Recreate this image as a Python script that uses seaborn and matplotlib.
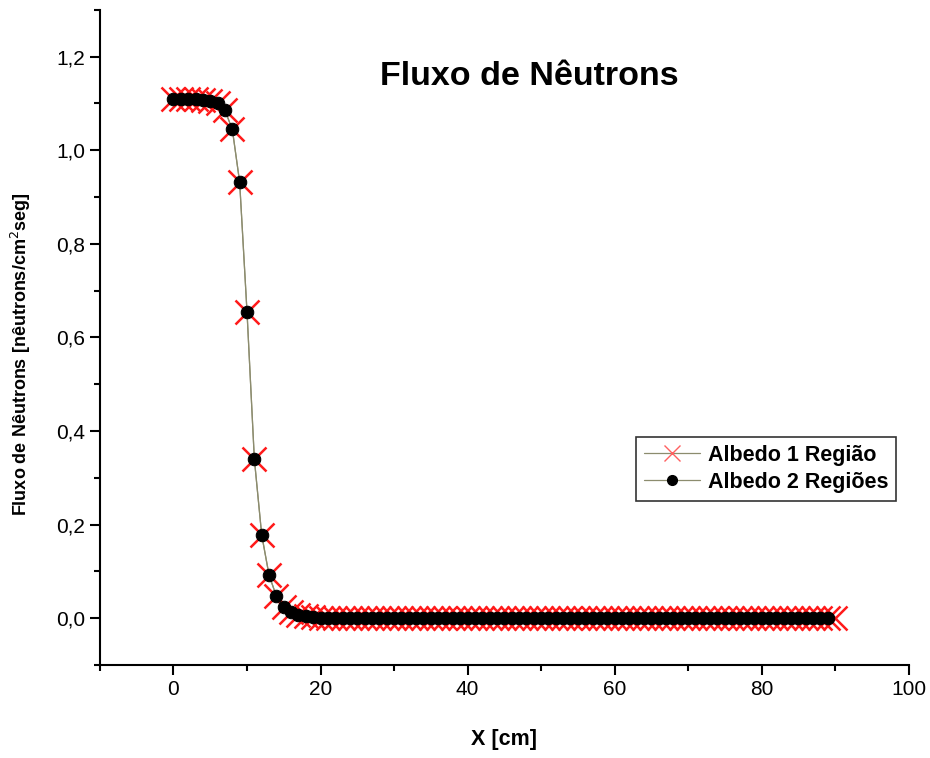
import matplotlib
matplotlib.use('Agg')
import matplotlib.pyplot as plt
import numpy as np
import pandas as pd
import seaborn as sns
from matplotlib.ticker import MultipleLocator
from matplotlib.lines import Line2D

# Posição (cm)
x_1reg = list(range(0, 91))
x_2reg = list(range(0, 90))

# Fluxo de nêutrons
flux_head = [1.110, 1.110, 1.110, 1.110, 1.108, 1.105, 1.100, 1.085, 1.045, 0.932,
             0.655, 0.340, 0.178, 0.092, 0.047, 0.024, 0.013, 0.007, 0.004, 0.002,
             0.001]
flux_1reg = flux_head + [0.0] * 70
flux_2reg = flux_head + [0.0] * 69

df1 = pd.DataFrame({'x': x_1reg, 'flux': flux_1reg})
df2 = pd.DataFrame({'x': x_2reg, 'flux': flux_2reg})

sns.set_style('ticks')
plt.rcParams['font.family'] = ['Liberation Sans', 'DejaVu Sans']
plt.rcParams['text.color'] = 'black'
plt.rcParams['axes.labelcolor'] = 'black'
plt.rcParams['xtick.color'] = 'black'
plt.rcParams['ytick.color'] = 'black'

fig = plt.figure(figsize=(9.3, 7.58), dpi=100)
ax = fig.add_axes([0.1075, 0.1227, 0.8695, 0.8643])

line_col = '#8c8c6e'
sns.lineplot(ax=ax, data=df1, x='x', y='flux', color=line_col, lw=0.9,
             marker='x', markersize=17, markeredgewidth=1.8,
             markeredgecolor='#ff1a1a', legend=False, zorder=2)
sns.lineplot(ax=ax, data=df2, x='x', y='flux', color=line_col, lw=0.9,
             marker='o', markersize=9, markerfacecolor='black',
             markeredgecolor='black', legend=False, zorder=3)

ax.set_xlim(-10, 100)
ax.set_ylim(-0.1, 1.3)
ax.xaxis.set_major_locator(MultipleLocator(20))
ax.xaxis.set_minor_locator(MultipleLocator(10))
ax.yaxis.set_minor_locator(MultipleLocator(0.1))
yt = np.arange(0, 1.21, 0.2)
ax.set_yticks(yt)
ax.set_yticklabels([f'{v:.1f}'.replace('.', ',') for v in yt])

ax.tick_params(which='major', direction='out', length=7, width=1.5, labelsize=15)
ax.tick_params(which='minor', direction='out', length=4, width=1.5)
for s in ['top', 'right']:
    ax.spines[s].set_visible(False)
for s in ['left', 'bottom']:
    ax.spines[s].set_linewidth(1.5)
    ax.spines[s].set_color('black')

ax.set_xlabel('X [cm]', fontsize=15.5, fontweight='bold', labelpad=22)
ax.set_ylabel(r'Fluxo de Nêutrons [nêutrons/cm$^{2}$seg]', fontsize=13,
              fontweight='bold')
ax.yaxis.set_label_coords(-0.083, 0.475)

ax.text(0.531, 0.898, 'Fluxo de Nêutrons', transform=ax.transAxes,
        ha='center', va='center', fontsize=24.5, fontweight='bold')

handles = [
    Line2D([], [], color=line_col, lw=0.9, marker='x', markersize=11,
           markeredgewidth=1.0, markeredgecolor='#ff6060'),
    Line2D([], [], color=line_col, lw=0.9, marker='o', markersize=7,
           markerfacecolor='black', markeredgecolor='black'),
]
leg = ax.legend(handles, ['Albedo 1 Região', 'Albedo 2 Regiões'],
                loc='upper left', bbox_to_anchor=(0.684, 0.4235),
                bbox_transform=fig.transFigure, borderaxespad=0,
                fancybox=False, frameon=True, edgecolor='black',
                prop={'weight': 'bold', 'size': 15.5}, handlelength=2.6,
                handletextpad=0.4, borderpad=0.35, labelspacing=0.3)
leg.get_frame().set_linewidth(1.2)

fig.savefig('out.png', dpi=100)
